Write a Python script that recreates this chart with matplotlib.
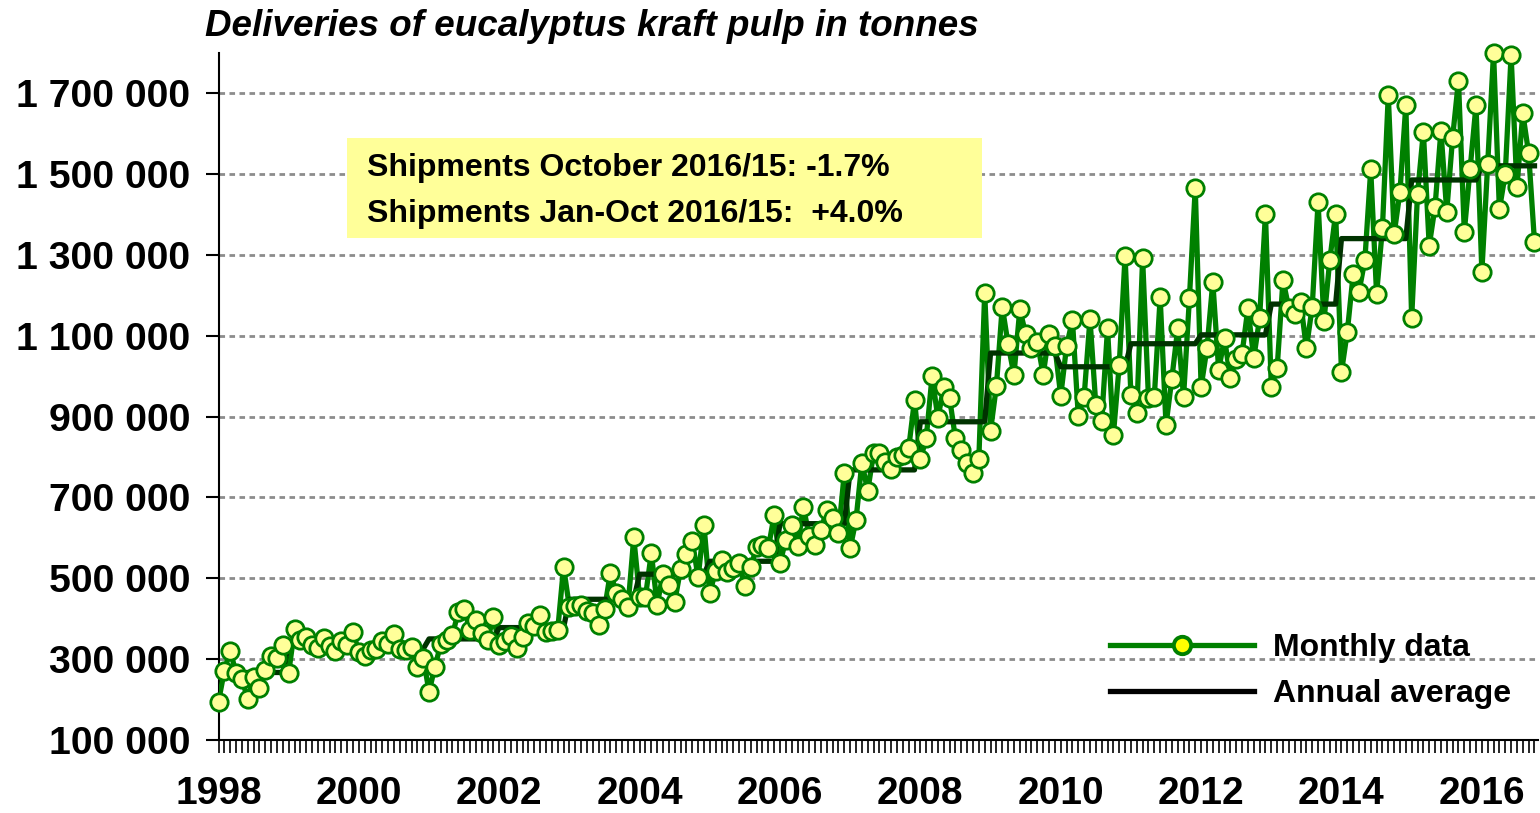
import numpy as np
import matplotlib
matplotlib.use("Agg")
import matplotlib.pyplot as plt
import matplotlib.ticker as ticker
from matplotlib.lines import Line2D
from matplotlib.patches import Rectangle

plt.rcParams['font.family'] = ['Liberation Sans', 'DejaVu Sans']
plt.rcParams['font.weight'] = 'bold'

# monthly deliveries, thousand tonnes (Jan 1998 .. Oct 2016)
d1998 = [195, 271, 321, 266, 251, 201, 256, 229, 273, 308, 303, 335]
d1999 = [266, 374, 347, 355, 335, 327, 352, 332, 320, 345, 335, 367]
d2000 = [318, 308, 323, 324, 345, 337, 361, 324, 323, 329, 281, 304]
d2001 = [219, 281, 337, 347, 360, 417, 423, 372, 398, 365, 347, 405]
d2002 = [335, 345, 357, 327, 354, 390, 382, 409, 368, 370, 373, 528]
d2003 = [428, 431, 434, 420, 413, 384, 423, 514, 464, 448, 428, 601]
d2004 = [453, 454, 563, 434, 511, 483, 442, 522, 560, 593, 502, 632]
d2005 = [463, 519, 545, 516, 525, 538, 481, 527, 577, 582, 574, 656]
d2006 = [537, 595, 632, 580, 676, 605, 582, 620, 669, 648, 611, 761]
d2007 = [574, 645, 786, 716, 809, 811, 788, 771, 800, 805, 821, 941]
d2008 = [794, 846, 1000, 896, 973, 945, 846, 817, 786, 761, 796, 1206]
d2009 = [865, 975, 1172, 1079, 1003, 1165, 1105, 1069, 1085, 1003, 1105, 1074]
d2010 = [951, 1074, 1139, 901, 949, 1142, 928, 890, 1118, 854, 1027, 1297]
d2011 = [953, 909, 1291, 945, 949, 1195, 879, 994, 1118, 949, 1192, 1466]
d2012 = [973, 1069, 1233, 1015, 1093, 995, 1042, 1055, 1168, 1044, 1143, 1401]
d2013 = [973, 1019, 1238, 1168, 1154, 1184, 1069, 1172, 1431, 1135, 1287, 1402]
d2014 = [1010, 1110, 1252, 1209, 1287, 1511, 1203, 1365, 1695, 1351, 1456, 1670]
d2015 = [1143, 1450, 1604, 1322, 1419, 1607, 1407, 1590, 1731, 1357, 1513, 1670]
d2016 = [1258, 1525, 1800, 1412, 1500, 1794, 1467, 1650, 1551, 1332]

# annual averages, thousand tonnes (1998 .. 2016)
annual_avg = [267, 340, 325, 350, 378, 448, 510, 542, 635, 768,
              887, 1057, 1023, 1080, 1102, 1178, 1340, 1485, 1520]

title = "Deliveries of eucalyptus kraft pulp in tonnes"
note_lines = ["Shipments October 2016/15: -1.7%",
              "Shipments Jan-Oct 2016/15:  +4.0%"]
legend_labels = ["Monthly data", "Annual average"]

monthly = np.array(d1998 + d1999 + d2000 + d2001 + d2002 + d2003 + d2004 +
                   d2005 + d2006 + d2007 + d2008 + d2009 + d2010 + d2011 +
                   d2012 + d2013 + d2014 + d2015 + d2016) * 1000
n = len(monthly)
x = 1998 + np.arange(n) / 12
annual = np.repeat(np.array(annual_avg) * 1000, 12)[:n]

W, H = 1540, 813
green = '#008000'

fig = plt.figure(figsize=(W / 100, H / 100), dpi=100)
ax = fig.add_axes([218.5 / W, 1 - 740 / H, (1538 - 218.5) / W, (740 - 52.6) / H])

ax.plot(x, monthly, color=green, lw=3.8, zorder=3)
ax.plot(x, annual, color='#003300', lw=3.8, zorder=4)
ax.plot(x, monthly, ls='none', marker='o', ms=12.5, mfc='#FFFF99', mec=green,
        mew=2, zorder=5, clip_on=False)

ax.set_xlim(1998, 1998 + 225.6 / 12)
ax.set_ylim(100000, 1800000)

ax.set_yticks(np.arange(100000, 1700001, 200000))
ax.yaxis.set_major_formatter(ticker.FuncFormatter(
    lambda v, pos: f"{int(v):,}".replace(",", " ")))
ax.xaxis.set_major_locator(ticker.MultipleLocator(2))
ax.xaxis.set_minor_locator(ticker.MultipleLocator(1 / 12))
ax.xaxis.set_major_formatter(ticker.FuncFormatter(lambda v, pos: f"{int(round(v))}"))

ax.tick_params(axis='y', direction='out', length=9.5, width=1.5, pad=11, labelsize=28.3)
ax.tick_params(axis='x', which='both', direction='out', length=9, width=1.2,
               pad=17, labelsize=28)

ax.yaxis.grid(True, ls=(0, (2, 1.6)), color='#8c8c8c', lw=2)
ax.set_axisbelow(True)

for side in ('top', 'right'):
    ax.spines[side].set_visible(False)
for side in ('left', 'bottom'):
    ax.spines[side].set_linewidth(1.5)

# title
fig.text(205 / W, 1 - 26 / H, title, fontsize=26.5, weight='bold',
         style='italic', va='center', ha='left')

# yellow note box
fig.patches.append(Rectangle((347 / W, 1 - 238 / H), (982 - 347) / W, 100 / H,
                             transform=fig.transFigure, facecolor='#FFFF99',
                             edgecolor='none', zorder=1))
fig.text(367 / W, 1 - 168 / H, note_lines[0], fontsize=23, weight='bold',
         va='center', ha='left', zorder=2)
fig.text(367 / W, 1 - 214 / H, note_lines[1], fontsize=23, weight='bold',
         va='center', ha='left', zorder=2)

# legend
handles = [Line2D([], [], color=green, lw=3.8, marker='o', ms=12.5,
                  mfc='#FFFF00', mec=green, mew=2.8),
           Line2D([], [], color='black', lw=3.8)]
fig.legend(handles, legend_labels, loc='upper left',
           bbox_to_anchor=(1110 / W, 1 - 633 / H), bbox_transform=fig.transFigure,
           frameon=False, fontsize=23, handlelength=4.5, handletextpad=0.6,
           labelspacing=0.5, borderpad=0, borderaxespad=0, numpoints=1)

fig.savefig('out.png', dpi=100)
